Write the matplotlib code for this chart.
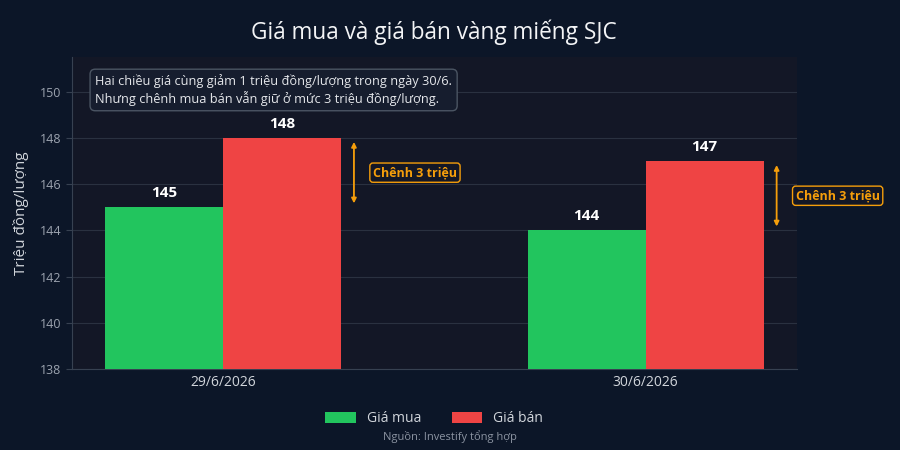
import matplotlib
matplotlib.use("Agg")
from matplotlib import pyplot as plt
import numpy as np

dates = ["29/6/2026", "30/6/2026"]
gia_mua = [145, 144]
gia_ban = [148, 147]
series_labels = ["Giá mua", "Giá bán"]
note_text = "Hai chiều giá cùng giảm 1 triệu đồng/lượng trong ngày 30/6.\nNhưng chênh mua bán vẫn giữ ở mức 3 triệu đồng/lượng."
spread_label = "Chênh 3 triệu"

plt.rcParams['font.family'] = ['Open Sans', 'Noto Sans', 'DejaVu Sans']

fig_bg = "#0c1628"
ax_bg = "#131726"
green = "#22c55e"
red = "#ef4444"
amber = "#f59e0b"

fig = plt.figure(figsize=(9, 4.5), dpi=100, facecolor=fig_bg)
ax = fig.add_axes([0.08, 0.18, 0.805, 0.693])
ax.set_facecolor(ax_bg)

x = np.arange(len(dates))
w = 0.279
b1 = ax.bar(x - w / 2, gia_mua, w, color=green, label=series_labels[0], zorder=3)
b2 = ax.bar(x + w / 2, gia_ban, w, color=red, label=series_labels[1], zorder=3)

for bars in (b1, b2):
    for r in bars:
        ax.text(r.get_x() + r.get_width() / 2, r.get_height() + 0.3, f"{r.get_height():.0f}",
                ha="center", va="bottom", color="white", fontsize=11, fontweight="bold", zorder=4)

for i in range(len(dates)):
    ax.annotate("", xy=(x[i] + 0.31, gia_ban[i] - 0.05), xytext=(x[i] + 0.31, gia_mua[i] + 0.05),
                arrowprops=dict(arrowstyle="<|-|>", color=amber, lw=1.3, mutation_scale=7), zorder=4)
    ax.text(x[i] + 0.355, (gia_mua[i] + gia_ban[i]) / 2, spread_label, ha="left", va="center",
            color=amber, fontsize=9, fontweight="bold", zorder=5,
            bbox=dict(boxstyle="round,pad=0.25", fc=ax_bg, ec=amber, lw=1))

ax.text(0.032, 0.945, note_text, transform=ax.transAxes, ha="left", va="top", color="#e5e7eb",
        fontsize=9.2, linespacing=1.2, zorder=5,
        bbox=dict(boxstyle="round,pad=0.4", fc="#161d2e", ec="#4b5563", lw=1))

ax.set_ylim(138, 151.5)
ax.set_xlim(-0.357, 1.357)
ax.set_yticks(range(138, 151, 2))
ax.set_xticks(x)
ax.set_xticklabels(dates)
ax.grid(axis="y", color="#2a3140", lw=0.8, zorder=0)
ax.tick_params(axis="y", colors="#374151", labelcolor="#9ca3af", labelsize=9, length=4)
ax.tick_params(axis="x", colors="#374151", labelcolor="#d1d5db", labelsize=10, length=0, pad=4)
for s in ["top", "right"]:
    ax.spines[s].set_visible(False)
for s in ["left", "bottom"]:
    ax.spines[s].set_color("#374151")
ax.set_ylabel("Triệu đồng/lượng", color="#d1d5db", fontsize=11, labelpad=8)
ax.set_title("Giá mua và giá bán vàng miếng SJC", color="#f3f4f6", fontsize=16.3, pad=13)

leg = ax.legend(loc="upper center", bbox_to_anchor=(0.5, -0.095), ncol=2, frameon=False,
                fontsize=10, handlelength=2.2, handleheight=0.9, columnspacing=2.2)
for t in leg.get_texts():
    t.set_color("#d1d5db")

fig.text(0.5, 0.029, "Nguồn: Investify tổng hợp", ha="center", va="center", color="#8b93a1", fontsize=8)

fig.savefig("out.png", dpi=100, facecolor=fig_bg)
